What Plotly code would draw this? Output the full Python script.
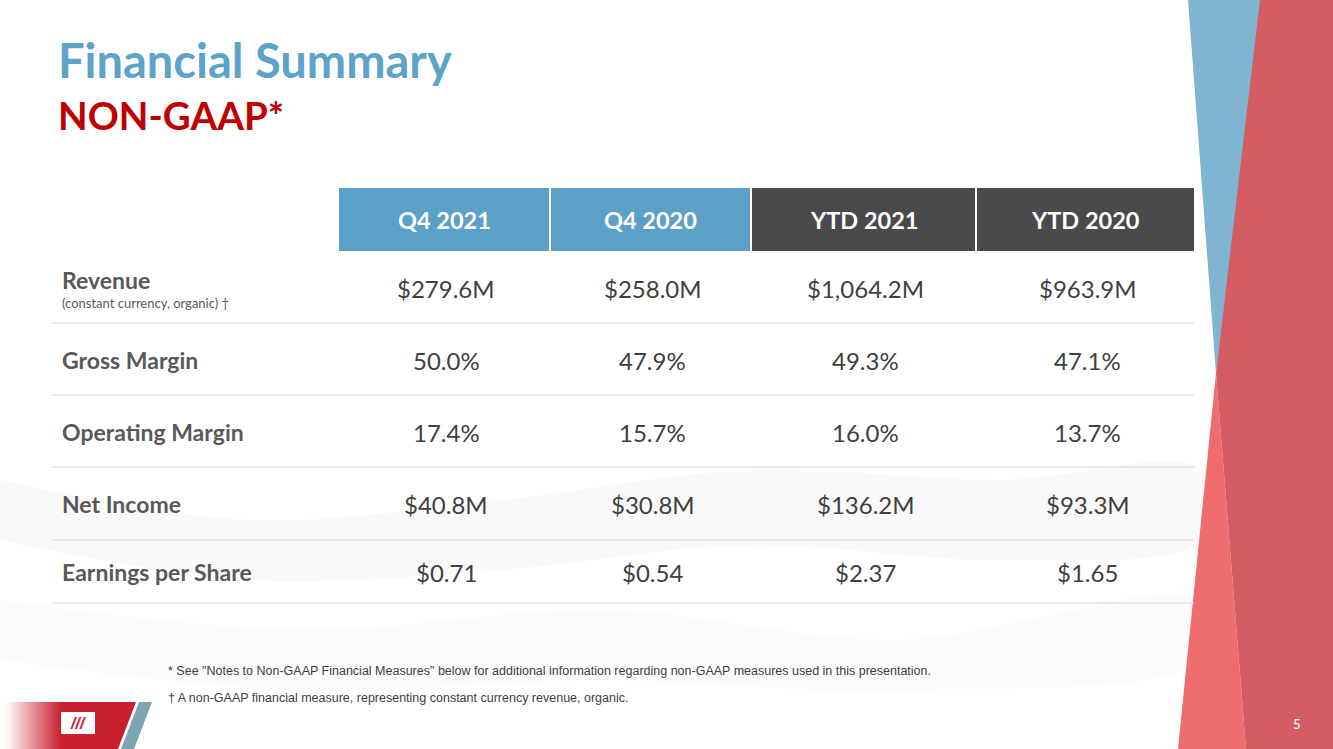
import plotly.graph_objects as go

# ---- data ----
columns = ["Q4 2021", "Q4 2020", "YTD 2021", "YTD 2020"]
metrics = ["Revenue", "Gross Margin", "Operating Margin", "Net Income", "Earnings per Share"]
metric_notes = ["(constant currency, organic) †", "", "", "", ""]
q4_2021 = ["$279.6M", "50.0%", "17.4%", "$40.8M", "$0.71"]
q4_2020 = ["$258.0M", "47.9%", "15.7%", "$30.8M", "$0.54"]
ytd_2021 = ["$1,064.2M", "49.3%", "16.0%", "$136.2M", "$2.37"]
ytd_2020 = ["$963.9M", "47.1%", "13.7%", "$93.3M", "$1.65"]
title = "Financial Summary"
subtitle = "NON-GAAP*"
footnotes = [
    '* See "Notes to Non-GAAP Financial Measures" below for additional information regarding non-GAAP measures used in this presentation.',
    "† A non-GAAP financial measure, representing constant currency revenue, organic.",
]
page_number = "5"

# ---- layout geometry ----
W, H = 1333, 749
col_edges = [(339, 549), (551, 750), (752, 975), (977, 1194)]
col_colors = ["#5BA0C6", "#5BA0C6", "#4A4A4C", "#4A4A4C"]
header_top, header_bot = 188, 251
row_centers = [288, 360, 432, 504, 572]
row_lines = [323, 395, 467, 540, 603]
font_main = "Lato, 'Open Sans', sans-serif"

fig = go.Figure()
shapes = []
annotations = []

# subtle background swooshes
fig.add_trace(go.Scatter(
    x=[0, 250, 500, 750, 1000, 1200, 1200, 1000, 750, 500, 250, 0],
    y=[480, 520, 500, 470, 480, 470, 540, 560, 545, 570, 580, 540],
    fill="toself", fillcolor="rgba(120,120,120,0.045)", line=dict(width=0, shape="spline"),
    mode="lines", hoverinfo="skip", showlegend=False))
fig.add_trace(go.Scatter(
    x=[0, 300, 600, 900, 1200, 1200, 900, 600, 300, 0],
    y=[600, 630, 610, 640, 600, 660, 690, 680, 690, 660],
    fill="toself", fillcolor="rgba(120,120,120,0.03)", line=dict(width=0, shape="spline"),
    mode="lines", hoverinfo="skip", showlegend=False))

# bottom-left red band with horizontal gradient
fig.add_trace(go.Scatter(
    x=[0, 136, 118, 0, 0], y=[702, 702, 749, 749, 702],
    fill="toself", mode="lines", line=dict(width=0),
    fillgradient=dict(type="horizontal",
                      colorscale=[[0, "rgba(200,32,47,0)"], [0.06, "rgba(200,32,47,0.05)"],
                                  [0.45, "rgba(200,32,47,1)"], [1, "rgba(200,32,47,1)"]]),
    hoverinfo="skip", showlegend=False))


def poly(pts, color):
    path = "M " + " L ".join(f"{x},{y}" for x, y in pts) + " Z"
    return dict(type="path", path=path, fillcolor=color, line=dict(width=0), layer="above",
                xref="x", yref="y")


# decorative right shapes
shapes.append(poly([(1188, 0), (1262, 0), (1216, 373)], "#7FB4D3"))
shapes.append(poly([(1216, 373), (1246, 749), (1178, 749)], "#EE6B6E"))
shapes.append(poly([(1260, 0), (1333, 0), (1333, 749), (1246, 749), (1216, 373)], "#D35C64"))

# logo
shapes.append(poly([(139, 702), (152, 702), (134, 749), (121, 749)], "#7FA5B4"))
shapes.append(dict(type="rect", x0=61, x1=95, y0=712, y1=734, xref="x", yref="y",
                   fillcolor="white", line=dict(width=0)))
annotations.append(dict(x=78, y=723, text="<b><i>///</i></b>", showarrow=False,
                        font=dict(size=16, color="#C8202F", family="Arial"),
                        xanchor="center", yanchor="middle"))

# header cells
for (x0, x1), c, name in zip(col_edges, col_colors, columns):
    shapes.append(dict(type="rect", x0=x0, x1=x1, y0=header_top, y1=header_bot, xref="x", yref="y",
                       fillcolor=c, line=dict(width=0)))
    annotations.append(dict(x=(x0 + x1) / 2, y=(header_top + header_bot) / 2, text=f"<b>{name}</b>",
                            showarrow=False, font=dict(size=23.5, color="white", family=font_main),
                            xanchor="center", yanchor="middle"))

# row separators
for yl in row_lines:
    shapes.append(dict(type="line", x0=52, x1=1194, y0=yl, y1=yl, xref="x", yref="y",
                       line=dict(color="#E3E3E3", width=1.3)))

# rows
value_cols = [q4_2021, q4_2020, ytd_2021, ytd_2020]
for r, (m, note) in enumerate(zip(metrics, metric_notes)):
    yc = row_centers[r]
    ylab = yc - 8 if note else yc
    annotations.append(dict(x=60, y=ylab, text=f"<b>{m}</b>", showarrow=False,
                            font=dict(size=23, color="#595959", family=font_main),
                            xanchor="left", yanchor="middle"))
    if note:
        annotations.append(dict(x=60, y=yc + 15, text=note, showarrow=False,
                                font=dict(size=13, color="#595959", family=font_main),
                                xanchor="left", yanchor="middle"))
    for ci, vals in enumerate(value_cols):
        x0, x1 = col_edges[ci]
        annotations.append(dict(x=(x0 + x1) / 2 + 2, y=yc, text=vals[r], showarrow=False,
                                font=dict(size=24, color="#404040", family=font_main),
                                xanchor="center", yanchor="middle"))

# titles
annotations.append(dict(x=56, y=60, text=f"<b>{title}</b>", showarrow=False,
                        font=dict(size=47, color="#5BA3C9", family=font_main),
                        xanchor="left", yanchor="middle"))
annotations.append(dict(x=56, y=115, text=f"<b>{subtitle}</b>", showarrow=False,
                        font=dict(size=38.5, color="#C00000", family=font_main),
                        xanchor="left", yanchor="middle"))

# footnotes
for i, ft in enumerate(footnotes):
    annotations.append(dict(x=166, y=671 + 27 * i, text=ft, showarrow=False,
                            font=dict(size=12.5, color="#404040", family="'Liberation Sans', Arial"),
                            xanchor="left", yanchor="middle"))

annotations.append(dict(x=1297, y=724, text=page_number, showarrow=False,
                        font=dict(size=13, color="white", family=font_main),
                        xanchor="center", yanchor="middle"))

fig.update_layout(
    width=W, height=H, margin=dict(l=0, r=0, t=0, b=0),
    paper_bgcolor="white", plot_bgcolor="white",
    xaxis=dict(range=[0, W], visible=False, fixedrange=True),
    yaxis=dict(range=[H, 0], visible=False, fixedrange=True),
    shapes=shapes, annotations=annotations, showlegend=False,
)

fig.write_html("out.html", config={"displayModeBar": False},
               post_script="document.body.style.margin='0';document.body.style.overflow='hidden';")
